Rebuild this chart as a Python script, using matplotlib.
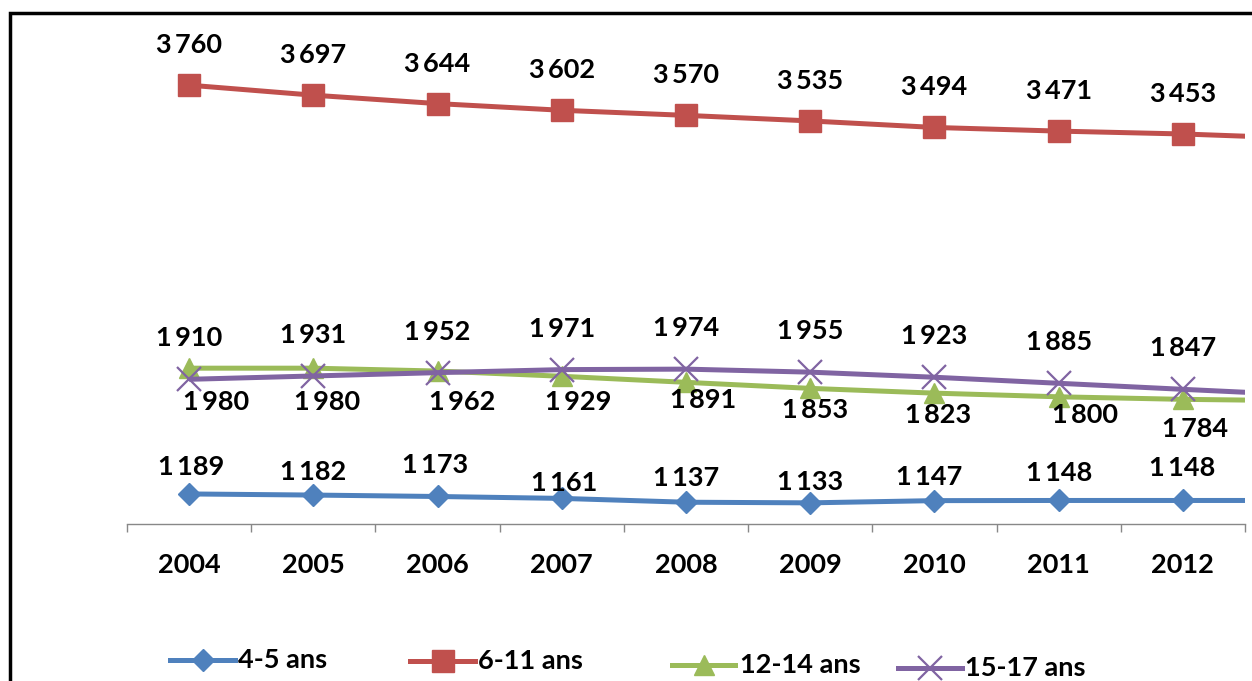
import numpy as np
import matplotlib
matplotlib.use('Agg')
from matplotlib import pyplot as plt
from matplotlib.lines import Line2D
from matplotlib.patches import Rectangle

# data (2013 is cut off by the right edge of the picture, only the line reaches it)
years = ['2004', '2005', '2006', '2007', '2008', '2009', '2010', '2011', '2012', '2013']
ans_4_5 = [1189, 1182, 1173, 1161, 1137, 1133, 1147, 1148, 1148, 1148]
ans_6_11 = [3760, 3697, 3644, 3602, 3570, 3535, 3494, 3471, 3453, 3425]
ans_12_14 = [1980, 1980, 1962, 1929, 1891, 1853, 1823, 1800, 1784, 1775]
ans_15_17 = [1910, 1931, 1952, 1971, 1974, 1955, 1923, 1885, 1847, 1810]
series_names = ['4-5 ans', '6-11 ans', '12-14 ans', '15-17 ans']
n_shown = 9

W, H = 1252, 681
FONT = ['Lato', 'DejaVu Sans']
FS = 19.5

colors = ['#4F81BD', '#C0504D', '#9BBB59', '#8064A2']
markers = [dict(marker='D', ms=11.5), dict(marker='s', ms=15.5),
           dict(marker='^', ms=15), dict(marker='x', ms=17, mew=1.6)]

# label offsets in pixels (dx, dy) - hand placed in the original
lab_dx = [[2, 0, -2, 2, 0, 0, -5, 0, -1],
          [0] * 9,
          [27, 14, 25, 16, 17, 5, 4, 26, 12],
          [0] * 9]
lab_dy = [[27, 23, 31, 15, 24, 21, 24, 27, 32],
          [40] * 9,
          [-34, -34, -31, -26, -18, -22, -22, -18, -30],
          [41] * 9]

fig = plt.figure(figsize=(W / 100, H / 100), dpi=100)
ax = fig.add_axes([127 / W, 1 - 524 / H, (1245 - 127) / W, (524 - 47) / H])

x = np.arange(len(years))
all_series = [ans_4_5, ans_6_11, ans_12_14, ans_15_17]
for i, vals in enumerate(all_series):
    ax.plot(x, vals, color=colors[i], lw=3.6, mec=colors[i], mfc=colors[i],
            solid_capstyle='butt', zorder=2 + i, **markers[i])
    for j in range(n_shown):
        txt = f'{vals[j]:,}'.replace(',', '\u2009')
        ax.annotate(txt, (x[j], vals[j]), xytext=(lab_dx[i][j], lab_dy[i][j]),
                    textcoords='offset pixels', ha='center', va='center',
                    fontsize=FS, fontweight='bold', family=FONT, zorder=10)

ax.set_yticks([])
ax.set_xticks(x[:n_shown])
ax.set_xticklabels(years[:n_shown], fontsize=FS, fontweight='bold', family=FONT)
ax.set_xticks(np.arange(-0.5, n_shown, 1), minor=True)
ax.set_xlim(-0.5, n_shown - 0.5)
ax.set_ylim(1000, 4000)
ax.tick_params(axis='x', which='major', length=0, pad=21)
ax.tick_params(axis='x', which='minor', length=6, color='#888888', width=1)
for s in ['top', 'left', 'right']:
    ax.spines[s].set_visible(False)
ax.spines['bottom'].set_color('#888888')
ax.spines['bottom'].set_linewidth(1)

# legend drawn by hand, entries are slightly staggered in the original
leg = [(170, 235, 660, 238), (410, 475, 661, 478), (672, 735, 665, 740), (898, 962, 668, 965)]
for i, (x0, x1, yy, tx) in enumerate(leg):
    fy = 1 - yy / H
    fig.add_artist(Line2D([x0 / W, x1 / W], [fy, fy], color=colors[i], lw=3.6,
                          transform=fig.transFigure))
    fig.add_artist(Line2D([(x0 + x1) / 2 / W], [fy], color=colors[i], lw=0,
                          mec=colors[i], mfc=colors[i], transform=fig.transFigure,
                          **markers[i]))
    fig.text(tx / W, fy, series_names[i], ha='left', va='center',
             fontsize=FS, fontweight='bold', family=FONT)

# chart frame (cropped at right and bottom)
fig.add_artist(Rectangle((10 / W, -0.2), 1.5, 1 - 13 / H + 0.2, fill=False,
                         ec='black', lw=2.5, transform=fig.transFigure))

fig.savefig('out.png', dpi=100)
